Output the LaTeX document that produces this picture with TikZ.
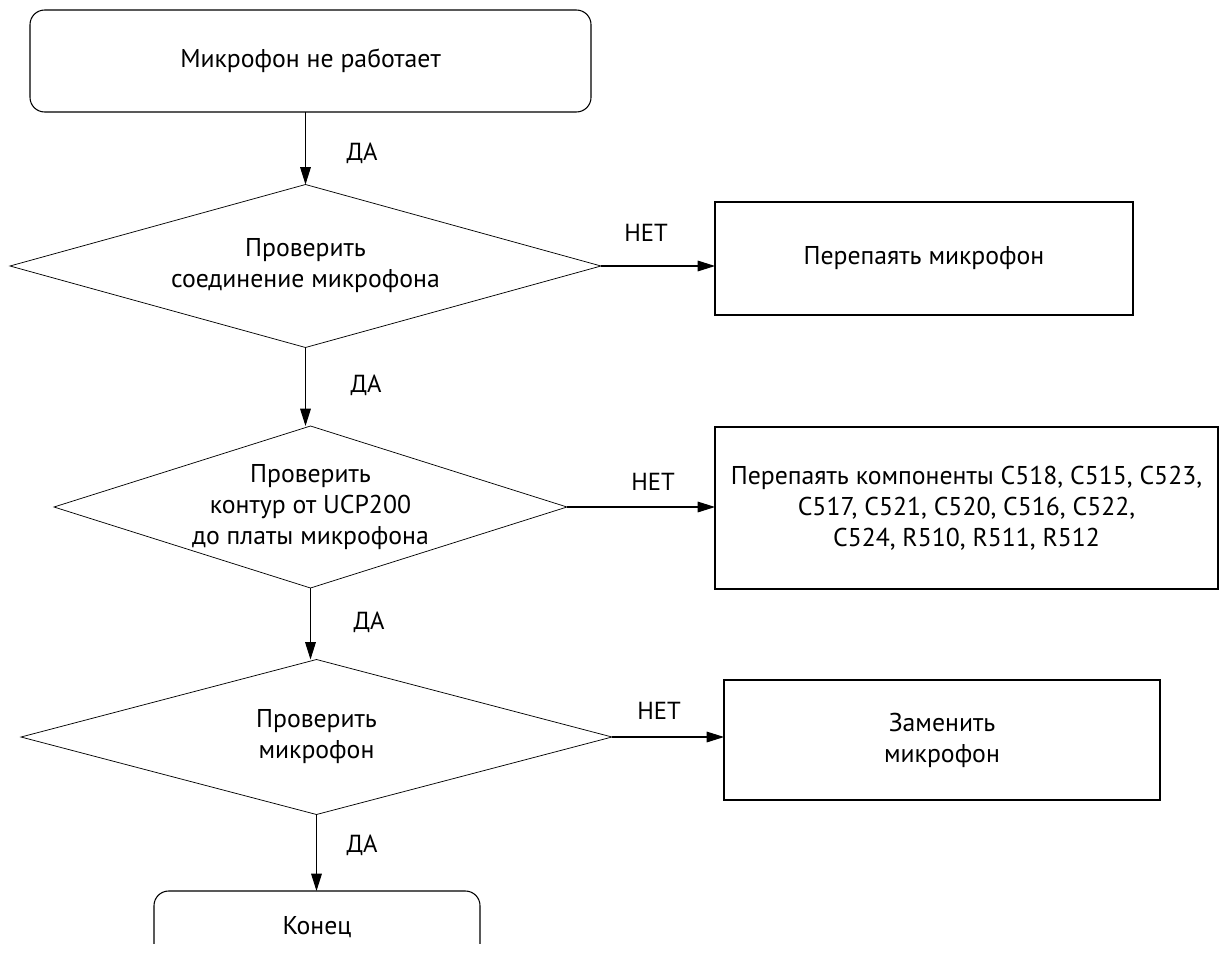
\documentclass[tikz,border=0pt]{standalone}
\usepackage{fontspec}
\setmainfont{PT Sans}
\usetikzlibrary{shapes.geometric,arrows.meta}
\begin{document}
\begin{tikzpicture}[x=0.75pt,y=-0.75pt,
  every node/.style={font=\fontsize{19.3}{23.3}\selectfont, align=center, inner sep=0pt, outer sep=0pt},
  boxnode/.style={draw, line width=0.8pt, rectangle},
  roundnode/.style={draw, line width=0.8pt, rectangle, rounded corners=11pt},
  decision/.style={draw, line width=0.55pt, diamond},
  arr/.style={line width=0.8pt, -{Triangle[length=13pt,width=8pt]}},
  lbl/.style={font=\fontsize{18.5}{22}\selectfont}]
\useasboundingbox (0,0) rectangle (1220,953);

\node[roundnode, minimum width=420.75pt, minimum height=76.5pt] (start) at (310.5,61) {Микрофон не работает};

\node[decision, minimum width=443.25pt, minimum height=122.25pt,
  label={center:Проверить\\соединение микрофона}] (d1) at (305.5,266) {};
\node[boxnode, minimum width=313.5pt, minimum height=84.75pt] (b1) at (924,258.5) {Перепаять микрофон};

\node[decision, minimum width=384.75pt, minimum height=121.5pt,
  label={center:Проверить\\контур от UCP200\\до платы микрофона}] (d2) at (310.5,507) {};
\node[boxnode, minimum width=377.25pt, minimum height=121.5pt] (b2) at (966.5,508) {Перепаять компоненты C518, C515, C523,\\C517, C521, C520, C516, C522,\\C524, R510, R511, R512};

\node[decision, minimum width=443.25pt, minimum height=116.25pt,
  label={center:Проверить\\микрофон}] (d3) at (316.5,737) {};
\node[boxnode, minimum width=327pt, minimum height=90pt] (b3) at (942,740) {Заменить\\микрофон};

\begin{scope}
\clip (0,0) rectangle (1220,943);
\node[roundnode, minimum width=244.5pt, minimum height=54pt] (end) at (317,927) {Конец};
\end{scope}

\draw[arr] (start.south -| d1.north) -- (d1.north);
\draw[arr] (d1.south) -- (d1.south |- d2.north);
\draw[arr] (d2.south) -- (d2.south |- d3.north);
\draw[arr] (d3.south) -- (d3.south |- end.north);

\draw[arr] (d1.east) -- (d1.east -| b1.west);
\draw[arr] (d2.east) -- (d2.east -| b2.west);
\draw[arr] (d3.east) -- (d3.east -| b3.west);

\node[lbl] (da1) at (362,153) {ДА};
\node[lbl] (da2) at (366,385) {ДА};
\node[lbl] (da3) at (369,622) {ДА};
\node[lbl] (da4) at (362,845) {ДА};

\node[lbl] (net1) at (646,233) {НЕТ};
\node[lbl] (net2) at (653,482) {НЕТ};
\node[lbl] (net3) at (659,711) {НЕТ};
\end{tikzpicture}
\end{document}
